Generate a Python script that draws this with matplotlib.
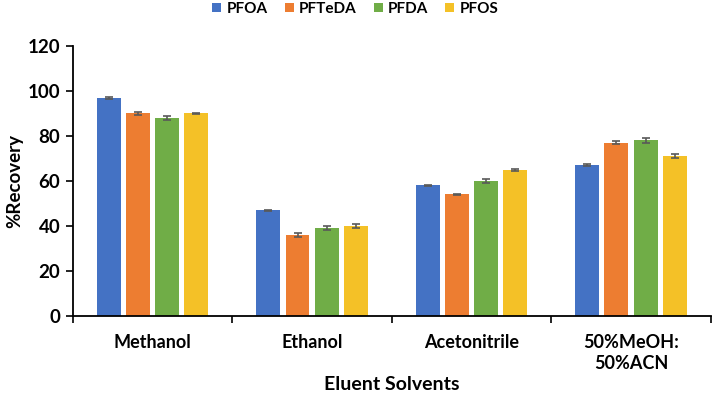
import numpy as np
import matplotlib.pyplot as plt

solvents = ['Methanol', 'Ethanol', 'Acetonitrile', '50%MeOH:\n50%ACN']
compounds = ['PFOA', 'PFTeDA', 'PFDA', 'PFOS']
pfoa = [97, 47, 58, 67]
pfteda = [90, 36, 54, 77]
pfda = [88, 39, 60, 78]
pfos = [90, 40, 65, 71]
pfoa_err = [0.5, 0.3, 0.3, 0.4]
pfteda_err = [0.7, 1.0, 0.3, 0.6]
pfda_err = [1.0, 1.0, 0.8, 1.0]
pfos_err = [0.4, 0.8, 0.4, 1.0]

colors = ['#4472C4', '#ED7D31', '#70AD47', '#F4C127']

plt.rcParams['font.family'] = ['Lato', 'DejaVu Sans']
plt.rcParams['font.weight'] = 'bold'

fig = plt.figure(figsize=(7.15, 4.03), dpi=100)
ax = fig.add_axes([0.102, 0.216, 0.892, 0.67])

x = np.arange(len(solvents))
width = 0.15
step = 0.183
series = [pfoa, pfteda, pfda, pfos]
errs = [pfoa_err, pfteda_err, pfda_err, pfos_err]
for i, (vals, err) in enumerate(zip(series, errs)):
    ax.bar(x + (i - 1.5) * step, vals, width, color=colors[i], label=compounds[i],
           yerr=err, error_kw=dict(ecolor='#595959', elinewidth=1.2, capsize=3, capthick=1.2),
           zorder=2)

ax.set_xlim(-0.5, len(solvents) - 0.5)
ax.set_ylim(0, 120)
ax.set_yticks(range(0, 121, 20))
ax.set_xticks(x)
ax.set_xticklabels(solvents, fontsize=13, fontweight='bold', linespacing=1.3)
ax.tick_params(axis='x', length=0, pad=13)
# category boundary ticks like Excel
ax.set_xticks(np.arange(-0.5, len(solvents)), minor=True)
ax.tick_params(axis='x', which='minor', length=5, width=1.2, direction='out')
ax.tick_params(axis='y', length=5, width=1.2, labelsize=13.5, pad=4)
for lbl in ax.get_yticklabels():
    lbl.set_fontweight('bold')

for s in ['top', 'right']:
    ax.spines[s].set_visible(False)
ax.spines['left'].set_linewidth(1.3)
ax.spines['bottom'].set_linewidth(1.3)

ax.set_ylabel('%Recovery', fontsize=13.5, fontweight='bold', labelpad=3)
ax.set_xlabel('Eluent Solvents', fontsize=14, fontweight='bold', labelpad=3)

fig.legend(loc='center', bbox_to_anchor=(0.497, 1 - 9 / 403), ncol=4, frameon=False,
           fontsize=11, handlelength=0.6, handleheight=0.6, columnspacing=1.1,
           handletextpad=0.35, borderpad=0)

fig.savefig('out.png', dpi=100)
